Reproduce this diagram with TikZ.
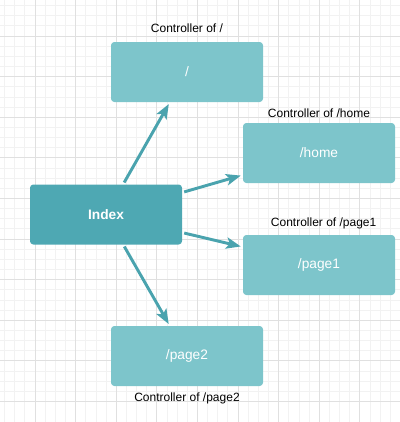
\documentclass[tikz,border=0pt]{standalone}
\usepackage{fontspec}
\setmainfont{Liberation Sans}
\usetikzlibrary{arrows.meta,positioning}
\definecolor{boxlight}{HTML}{7DC5CB}
\definecolor{boxdark}{HTML}{4EA8B3}
\definecolor{arrowcol}{HTML}{4AA3AE}
\definecolor{gridminor}{HTML}{F2F2F2}
\definecolor{gridmajor}{HTML}{E0E0E0}

\begin{document}
\begin{tikzpicture}[x=0.75pt,y=-0.75pt,font=\fontsize{10.3}{12}\selectfont,
  ctrl/.style={rectangle,rounded corners=2.5pt,fill=boxlight,text=white,
    minimum width=114pt,minimum height=45pt,inner sep=0pt},
  idx/.style={ctrl,fill=boxdark,font=\fontsize{10.3}{12}\selectfont\bfseries},
  capt/.style={inner sep=0pt,text=black,font=\fontsize{9}{11}\selectfont},
  link/.style={draw=arrowcol,line width=2.2pt,-{Stealth[length=11pt,width=8.5pt,inset=2.5pt]},
    shorten >=1.5pt,shorten <=1.5pt}]
\useasboundingbox (0,0) rectangle (400,422);
% grid
\foreach \k in {0,...,39}{
  \draw[gridminor,line width=0.6pt] ({4.55+10.15*\k},0) -- ({4.55+10.15*\k},422);
  \draw[gridminor,line width=0.6pt] (0,{5.55+10.15*\k}) -- (400,{5.55+10.15*\k});}
\foreach \j in {0,...,9}{
  \draw[gridmajor,line width=0.6pt] ({35+40.6*\j},0) -- ({35+40.6*\j},422);
  \draw[gridmajor,line width=0.6pt] (0,{36+40.6*\j}) -- (400,{36+40.6*\j});}
% boxes
\node[idx](index) at (106,214.5){Index};
\node[ctrl](root) at (187,72){/};
\node[ctrl](home) at (319,153){/home};
\node[ctrl](page1) at (319,265){/page1};
\node[ctrl](page2) at (187,356){/page2};
% captions
\node[capt](croot) at ([yshift=10.5pt]root.north){Controller of /};
\node[capt](chome) at ([yshift=7.5pt]home.north){Controller of /home};
\node[capt](cpage1) at ([xshift=3.5pt,yshift=8.25pt]page1.north){Controller of /page1};
\node[capt](cpage2) at ([yshift=-9pt]page2.south){Controller of /page2};
% links
\draw[link](index)--(root); \draw[link](index)--(home);
\draw[link](index)--(page1); \draw[link](index)--(page2);
\end{tikzpicture}
\end{document}
